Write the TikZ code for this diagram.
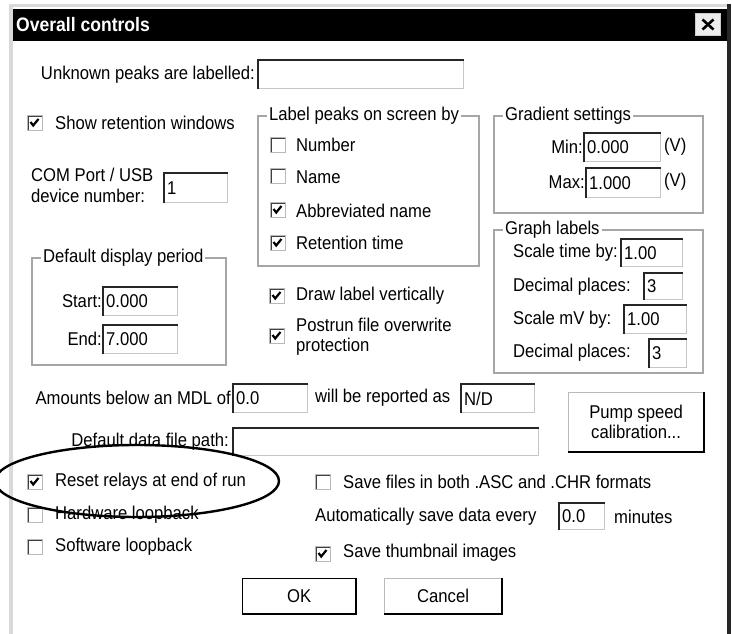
\documentclass[tikz,border=0pt]{standalone}
\usepackage{fontspec}
\setmainfont{Liberation Sans}[FakeStretch=0.9]
\usetikzlibrary{shapes.geometric}
\newcommand\dlgfont{\fontsize{18.5}{21}\selectfont}
\tikzset{
  lbl/.style={anchor=west, inner sep=0pt, font=\dlgfont},
  lble/.style={anchor=east, inner sep=0pt, font=\dlgfont},
  fieldbox/.style={draw=gray!45, line width=1.2pt, inner sep=0pt, fill=white},
  fielddark/.style={draw=black!85, line width=2pt},
  cboxst/.style={draw=gray!55, line width=1.3pt, minimum size=15pt, inner sep=0pt, fill=white},
  cboxdark/.style={draw=black!75, line width=1pt},
  checkst/.style={draw=black, line width=2.2pt},
  groupst/.style={draw=gray!70, line width=1.4pt},
  btnst/.style={draw=gray!55, line width=1.2pt, inner sep=0pt, fill=white},
  btnshadow/.style={draw=black, line width=2.5pt},
  markst/.style={draw=black, line width=2.4pt, ellipse, inner sep=0pt},
}
\newcommand\mkfield[6]{%
  \node[fieldbox, minimum width=#4pt, minimum height=#5pt, anchor=north west] (#1) at (#2,#3) {};
  \draw[fielddark] (#1.south west) -- (#1.north west) -- (#1.north east);
  \node[lbl] (#1t) at ([xshift=3pt]#1.west) {#6};
}
\newcommand\mkcbox[4]{%
  \node[cboxst, anchor=north west] (#1) at (#2,#3) {};
  \draw[cboxdark] ([shift={(1.6pt,1.6pt)}]#1.south west) -- ([shift={(1.6pt,-1.6pt)}]#1.north west) -- ([shift={(-1.6pt,-1.6pt)}]#1.north east);
  \ifnum#4=1
    \draw[checkst] ([shift={(3.5pt,-7pt)}]#1.north west) -- ([shift={(6.2pt,-10.5pt)}]#1.north west) -- ([shift={(11.5pt,-4pt)}]#1.north west);
  \fi
}
\newcommand\mkgroup[6]{%
  \draw[groupst] (#2,#3) rectangle (#4,#5);
  \node[lbl, fill=white, inner xsep=2pt] (#1) at (#2+9,#3) {#6};
}
\newcommand\mkbtn[7]{%
  \node[btnst, draw=#7, minimum width=#4pt, minimum height=#5pt, anchor=north west] (#1) at (#2,#3) {};
  \draw[btnshadow] (#1.south west) -- (#1.south east) -- (#1.north east);
  \node[font=\dlgfont, align=center, inner sep=0pt] (#1t) at (#1.center) {#6};
}
\begin{document}
\begin{tikzpicture}[x=1pt,y=-1pt]
\useasboundingbox (0,0) rectangle (732,634);
\fill[white] (0,0) rectangle (732,634);
% window frame
\fill[gray!30] (9,4) rectangle (731,7);
\fill[gray!30] (9,4) rectangle (13,634);
\fill[black!85] (727,4) rectangle (731,634);
\fill[black] (13,9) rectangle (727,41);
\node[anchor=west, inner sep=0pt, text=white, font=\fontsize{19.5}{22}\selectfont\bfseries] (title) at (16,25) {Overall controls};
\node[fill=gray!15, draw=gray!40, line width=1pt, minimum width=25pt, minimum height=22pt, inner sep=0pt, anchor=north west] (close) at (695,13) {};
\draw[line width=2.6pt] ([shift={(-5.5pt,5pt)}]close.center) -- ([shift={(5.5pt,-5pt)}]close.center);
\draw[line width=2.6pt] ([shift={(-5.5pt,-5pt)}]close.center) -- ([shift={(5.5pt,5pt)}]close.center);

% unknown peaks
\node[lble] (unk) at (255,75) {Unknown peaks are labelled:};
\mkfield{unkf}{258}{60}{205}{28}{}

% show retention windows
\mkcbox{cbshow}{27}{115}{1}
\node[lbl] (show) at (55,123) {Show retention windows};

% COM port
\node[lbl] (com1) at (31,175) {COM Port / USB};
\node[lbl] (com2) at (31,196) {device number:};
\mkfield{comf}{164}{173}{63}{29}{1}

% Label peaks group
\mkgroup{glabel}{258}{116}{479}{266}{Label peaks on screen by}
\mkcbox{cbnum}{270}{137}{0}
\node[lbl] (num) at (296,145) {Number};
\mkcbox{cbname}{270}{168}{0}
\node[lbl] (name) at (296,177) {Name};
\mkcbox{cbabbr}{270}{202}{1}
\node[lbl] (abbr) at (296,211) {Abbreviated name};
\mkcbox{cbret}{270}{235}{1}
\node[lbl] (ret) at (296,243) {Retention time};

% Gradient settings
\mkgroup{ggrad}{494}{116}{703}{213}{Gradient settings}
\node[lble] (min) at (583,147) {Min:};
\mkfield{minf}{584}{133}{76}{28}{0.000}
\node[lbl] (minv) at (664,147) {(V)};
\node[lble] (max) at (585,182) {Max:};
\mkfield{maxf}{586}{168}{74}{29}{1.000}
\node[lbl] (maxv) at (664,182) {(V)};

% Graph labels
\mkgroup{ggraph}{494}{230}{703}{373}{Graph labels}
\node[lbl] (stime) at (513,253) {Scale time by:};
\mkfield{stimef}{621}{239}{61}{27}{1.00}
\node[lbl] (dec1) at (513,287) {Decimal places:};
\mkfield{dec1f}{644}{273}{38}{26}{3}
\node[lbl] (smv) at (513,320) {Scale mV by:};
\mkfield{smvf}{624}{305}{62}{28}{1.00}
\node[lbl] (dec2) at (513,353) {Decimal places:};
\mkfield{dec2f}{649}{339}{37}{28}{3}

% Default display period
\mkgroup{gdisp}{32}{258}{226}{365}{Default display period}
\node[lble] (start) at (102,301) {Start:};
\mkfield{startf}{103}{287}{74}{28}{0.000}
\node[lble] (end) at (102,339) {End:};
\mkfield{endf}{103}{325}{74}{28}{7.000}

% draw label / postrun
\mkcbox{cbdraw}{269}{288}{1}
\node[lbl] (drawl) at (296,296) {Draw label vertically};
\mkcbox{cbpost}{269}{328}{1}
\node[lbl] (post1) at (296,325) {Postrun file overwrite};
\node[lbl] (post2) at (296,347) {protection};

% amounts
\node[lble] (amt) at (231,398) {Amounts below an MDL of};
\mkfield{amtf}{233}{384}{74}{28}{0.0}
\node[lbl] (rep) at (315,398) {will be reported as};
\mkfield{repf}{461}{384}{73}{28}{N/D}

% data path
\node[lble] (path) at (229,442) {Default data file path:};
\mkfield{pathf}{233}{428}{305}{27}{}

% pump button
\mkbtn{pump}{568}{392}{135}{59}{Pump speed\\[-1pt]calibration...}{gray!55}

% left checkboxes
\mkcbox{cbreset}{27}{474}{1}
\node[lbl] (reset) at (55,482) {Reset relays at end of run};
\mkcbox{cbhw}{27}{507}{0}
\node[lbl] (hw) at (55,515) {Hardware loopback};
\mkcbox{cbsw}{27}{539}{0}
\node[lbl] (sw) at (55,547) {Software loopback};

% right options
\mkcbox{cbsave}{315}{474}{0}
\node[lbl] (save) at (343,482) {Save files in both .ASC and .CHR formats};
\node[lbl] (auto) at (315,517) {Automatically save data every};
\mkfield{autof}{559}{503}{45}{26}{0.0}
\node[lbl] (mins) at (614,517) {minutes};
\mkcbox{cbthumb}{315}{546}{1}
\node[lbl] (thumb) at (343,553) {Save thumbnail images};

% OK / Cancel
\mkbtn{ok}{242}{578}{113}{35}{OK}{black}
\mkbtn{cancel}{384}{578}{117}{35}{Cancel}{gray!55}

% highlight ellipse
\node[markst, minimum width=284pt, minimum height=72pt] (mark) at (137,481) {};
\end{tikzpicture}
\end{document}
